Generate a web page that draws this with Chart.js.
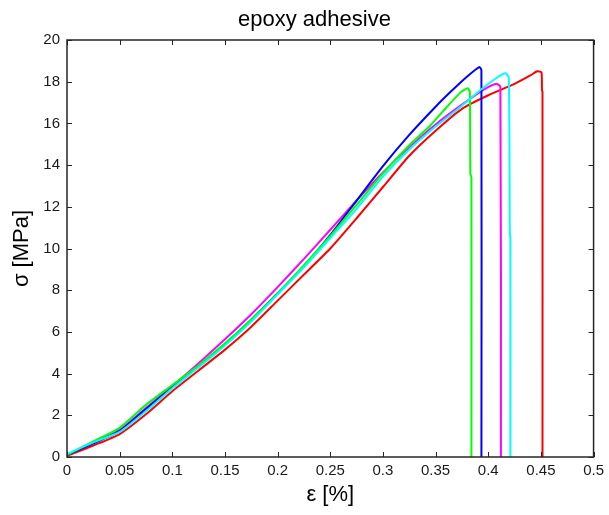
<!DOCTYPE html>
<html>
<head>
<meta charset="utf-8">
<script src="https://cdn.jsdelivr.net/npm/chart.js@4"></script>
<style>
  body { margin: 0; background: #fff; }
  canvas { display: block; }
</style>
</head>
<body>
<canvas id="myChart" width="609" height="515"></canvas>
<script>
// strain [%] and stress [MPa], one pair per specimen
const strainCyan = [0, 0.025, 0.05, 0.075, 0.1, 0.125, 0.15, 0.175, 0.2, 0.225, 0.25, 0.275, 0.3, 0.325, 0.35, 0.375, 0.395, 0.41, 0.4165, 0.4195, 0.4205, 0.421, 0.421];
const stressCyan = [0.15, 0.7, 1.2, 2.2, 3.3, 4.3, 5.35, 6.5, 7.8, 9.1, 10.5, 11.9, 13.45, 14.75, 15.85, 16.85, 17.7, 18.25, 18.4, 18.2, 10.7, 10.5, 0];

const strainGreen = [0, 0.025, 0.05, 0.075, 0.1, 0.125, 0.15, 0.175, 0.2, 0.225, 0.25, 0.275, 0.3, 0.325, 0.345, 0.36, 0.374, 0.3805, 0.3825, 0.383, 0.384, 0.384];
const stressGreen = [0.1, 0.75, 1.4, 2.5, 3.45, 4.4, 5.45, 6.6, 7.85, 9.2, 10.6, 12.1, 13.6, 14.95, 15.9, 16.75, 17.5, 17.68, 17.5, 13.6, 13.4, 0];

const strainBlue = [0, 0.025, 0.05, 0.075, 0.1, 0.125, 0.15, 0.175, 0.2, 0.225, 0.25, 0.275, 0.3, 0.325, 0.35, 0.365, 0.38, 0.3915, 0.3935, 0.3935];
const stressBlue = [0.1, 0.65, 1.25, 2.3, 3.35, 4.35, 5.4, 6.6, 7.85, 9.15, 10.65, 12.3, 13.95, 15.45, 16.8, 17.55, 18.25, 18.7, 18.55, 0];

const strainMagenta = [0, 0.025, 0.05, 0.075, 0.1, 0.125, 0.15, 0.175, 0.2, 0.225, 0.25, 0.275, 0.3, 0.325, 0.35, 0.375, 0.395, 0.4075, 0.4115, 0.412];
const stressMagenta = [0.1, 0.7, 1.3, 2.35, 3.4, 4.5, 5.65, 6.85, 8.15, 9.5, 10.9, 12.3, 13.65, 14.85, 15.95, 16.9, 17.6, 17.9, 17.75, 0];

const strainRed = [0, 0.025, 0.05, 0.075, 0.1, 0.125, 0.15, 0.175, 0.2, 0.225, 0.25, 0.275, 0.3, 0.325, 0.35, 0.375, 0.4, 0.425, 0.44, 0.4465, 0.4505, 0.451, 0.4515, 0.4515];
const stressRed = [0.05, 0.55, 1.1, 2.05, 3.15, 4.15, 5.15, 6.25, 7.5, 8.75, 10.0, 11.45, 12.95, 14.45, 15.65, 16.7, 17.35, 17.9, 18.3, 18.5, 18.45, 17.6, 17.5, 0];

const xTicks = [0, 0.05, 0.1, 0.15, 0.2, 0.25, 0.3, 0.35, 0.4, 0.45, 0.5];
const yTicks = [0, 2, 4, 6, 8, 10, 12, 14, 16, 18, 20];
const chartTitle = "epoxy adhesive";

function toPoints(xs, ys) {
  return xs.map((x, i) => ({ x: x, y: ys[i] }));
}

function curve(xs, ys, color) {
  return {
    data: toPoints(xs, ys),
    borderColor: color,
    backgroundColor: color,
    borderWidth: 2,
    pointRadius: 0,
    showLine: true,
    fill: false,
    tension: 0.2,
  };
}

const font = "'Liberation Sans', Arial, sans-serif";

// box around the plot with inward ticks on every side (matlab look) + title
const boxPlugin = {
  id: "box",
  afterDatasetsDraw(chart) {
    const ctx = chart.ctx;
    const area = chart.chartArea;
    const xs = chart.scales.x;
    const ys = chart.scales.y;
    const len = 5;
    ctx.save();
    ctx.strokeStyle = "#262626";
    ctx.lineWidth = 1;
    ctx.beginPath();
    xTicks.forEach((v) => {
      const px = Math.round(xs.getPixelForValue(v)) + 0.5;
      ctx.moveTo(px, area.bottom);
      ctx.lineTo(px, area.bottom - len);
      ctx.moveTo(px, area.top);
      ctx.lineTo(px, area.top + len);
    });
    yTicks.forEach((v) => {
      const py = Math.round(ys.getPixelForValue(v)) + 0.5;
      ctx.moveTo(area.left, py);
      ctx.lineTo(area.left + len, py);
      ctx.moveTo(area.right, py);
      ctx.lineTo(area.right - len, py);
    });
    ctx.stroke();
    ctx.lineWidth = 1.5;
    ctx.strokeRect(area.left, area.top, area.right - area.left, area.bottom - area.top);

    // title sits a bit left of the plot centre in the original
    ctx.fillStyle = "#000";
    ctx.font = "22px " + font;
    ctx.textAlign = "center";
    ctx.textBaseline = "alphabetic";
    ctx.fillText(chartTitle, area.left + (area.right - area.left) * 0.47, area.top - 14);
    ctx.restore();
  },
};

new Chart(document.getElementById("myChart").getContext("2d"), {
  type: "scatter",
  data: {
    datasets: [
      curve(strainCyan, stressCyan, "#00ffff"),
      curve(strainGreen, stressGreen, "#00ff00"),
      curve(strainBlue, stressBlue, "#0000ff"),
      curve(strainMagenta, stressMagenta, "#ff00ff"),
      curve(strainRed, stressRed, "#ff0000"),
    ],
  },
  options: {
    responsive: false,
    animation: false,
    layout: { padding: { left: 0, right: 12, top: 40, bottom: 0 } },
    plugins: {
      legend: { display: false },
      tooltip: { enabled: false },
      title: { display: false },
    },
    scales: {
      x: {
        type: "linear",
        min: 0,
        max: 0.5,
        afterBuildTicks: (scale) => { scale.ticks = xTicks.map((v) => ({ value: v })); },
        afterFit: (scale) => { scale.height = 58; },
        grid: { display: false, drawTicks: false },
        border: { display: false },
        ticks: {
          color: "#1a1a1a",
          padding: 5,
          maxRotation: 0,
          font: { family: font, size: 15 },
          callback: (v) => String(v),
        },
        title: {
          display: true,
          text: "ε [%]",
          color: "#000",
          font: { family: font, size: 22 },
          padding: { top: 0, bottom: 7 },
        },
      },
      y: {
        type: "linear",
        min: 0,
        max: 20,
        afterBuildTicks: (scale) => { scale.ticks = yTicks.map((v) => ({ value: v })); },
        afterFit: (scale) => { scale.width = 67; },
        grid: { display: false, drawTicks: false },
        border: { display: false },
        ticks: {
          color: "#1a1a1a",
          padding: 7,
          font: { family: font, size: 15 },
          callback: (v) => String(v),
        },
        title: {
          display: true,
          text: "σ [MPa]",
          color: "#000",
          font: { family: font, size: 22 },
          padding: { top: 9, bottom: 0 },
        },
      },
    },
  },
  plugins: [boxPlugin],
});
</script>
</body>
</html>
